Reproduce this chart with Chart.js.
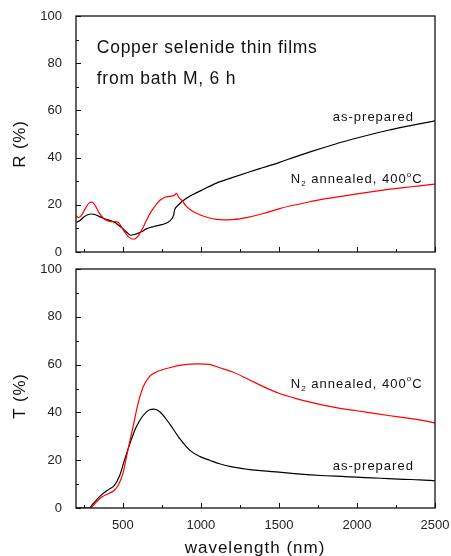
<!DOCTYPE html>
<html lang="en">
<head>
<meta charset="UTF-8" />
<title>Copper selenide thin films - R and T</title>
<script src="https://cdn.jsdelivr.net/npm/chart.js@4.4.1/dist/chart.umd.min.js"></script>
<style>
    html, body { margin: 0; padding: 0; background: #fff; }
    #wrap { position: relative; width: 451px; height: 556px; overflow: hidden; }
    canvas { position: absolute; left: 0; }
    #topChart { top: 0; }
    #bottomChart { top: 262px; }
</style>
</head>
<body>
<div id="wrap">
    <canvas id="topChart" width="451" height="262"></canvas>
    <canvas id="bottomChart" width="451" height="294"></canvas>
</div>

<script>
// ---- data ----
// reflectance, as-prepared film
const wlReflPrepared = [200, 225, 250, 275, 300, 325, 350, 375, 400, 425, 450, 475, 500, 525, 550, 575, 600, 625, 650, 675,
    700, 750, 790, 815, 825, 832, 850, 875, 907, 950, 1000, 1100, 1200, 1300, 1400, 1500, 1600, 1700, 1800, 1900,
    2000, 2100, 2200, 2300, 2400, 2500];
const reflPrepared = [12.5, 13.3, 14.8, 15.8, 16.1, 15.8, 15.0, 14.3, 13.7, 13.2, 12.5, 11.2, 9.9, 8.4, 7.1, 7.4, 8.0, 8.8, 9.8, 10.4,
    10.8, 11.6, 12.6, 14.2, 15.5, 17.9, 19.5, 21.2, 22.8, 24.4, 26.0, 29.2, 31.5, 33.7, 35.8, 37.9, 40.2, 42.4, 44.5, 46.5,
    48.3, 50.0, 51.6, 53.0, 54.3, 55.6];

// reflectance, N2 annealed 400 C
const wlReflAnnealed = [200, 215, 235, 260, 285, 300, 320, 345, 373, 400, 425, 450, 470, 490, 510, 540, 570, 595, 620, 650,
    680, 710, 740, 770, 800, 830, 843, 860, 880, 907, 950, 1000, 1050, 1100, 1150, 1200, 1250, 1300, 1400, 1500,
    1600, 1700, 1800, 1900, 2000, 2100, 2200, 2300, 2400, 2500];
const reflAnnealed = [15.5, 14.6, 15.5, 18.5, 20.8, 21.1, 20.0, 17.0, 14.4, 13.3, 12.9, 12.9, 12.6, 10.8, 8.6, 6.2, 5.4, 6.5, 9.2, 13.2,
    17.0, 19.8, 22.0, 23.2, 23.6, 24.0, 24.8, 23.0, 21.8, 19.3, 17.2, 15.6, 14.5, 13.8, 13.6, 13.7, 14.0, 14.7, 16.3, 18.3,
    19.9, 21.3, 22.6, 23.6, 24.6, 25.6, 26.5, 27.3, 28.0, 28.8];

// transmittance, as-prepared film
const wlTransPrepared = [200, 285, 300, 330, 370, 415, 445, 480, 510, 545, 585, 630, 670, 700, 735, 800, 865, 930, 995, 1060,
    1120, 1200, 1300, 1400, 1500, 1600, 1700, 1800, 1900, 2000, 2100, 2200, 2300, 2400, 2500];
const transPrepared = [0, 0, 1.0, 3.3, 5.9, 8.0, 9.4, 13.6, 19.9, 26.9, 33.8, 38.7, 41.1, 41.4, 40.4, 35.2, 29.0, 24.1, 21.5, 19.9,
    18.5, 17.2, 16.2, 15.5, 15.0, 14.4, 13.9, 13.5, 13.2, 12.9, 12.6, 12.3, 12.0, 11.8, 11.4];

// transmittance, N2 annealed 400 C
const wlTransAnnealed = [200, 290, 310, 330, 370, 410, 445, 470, 500, 530, 565, 597, 630, 670, 715, 800, 885, 980, 1060, 1120,
    1200, 1300, 1400, 1500, 1600, 1700, 1800, 1900, 2000, 2100, 2200, 2300, 2400, 2500];
const transAnnealed = [0, 0, 1.0, 2.5, 4.8, 6.1, 7.3, 9.5, 14.3, 23.5, 33.8, 43.6, 50.6, 55.0, 56.9, 58.7, 59.9, 60.3, 60.0, 58.7,
    57.0, 54.0, 50.8, 48.0, 46.0, 44.3, 42.8, 41.6, 40.7, 39.7, 38.7, 37.8, 36.9, 35.6];

// axis ticks
const xTicks = [500, 1000, 1500, 2000, 2500];
const xMinorTicks = [250, 750, 1250, 1750, 2250];
const yTicks = [0, 20, 40, 60, 80, 100];
const yMinorTicks = [10, 30, 50, 70, 90];

const FONT = "'Liberation Sans', Arial, sans-serif";

function pairs(xs, ys) {
    return xs.map((x, i) => ({ x: x, y: ys[i] }));
}

function line(data, color) {
    return {
        data: data,
        borderColor: color,
        borderWidth: 1.2,
        pointRadius: 0,
        fill: false,
        cubicInterpolationMode: 'monotone'
    };
}

// draw "N2 annealed, 400oC" style text with sub/superscripts
function drawParts(ctx, parts, x, y, size) {
    parts.forEach(p => {
        const small = p.sub || p.sup;
        const s = small ? size * 0.62 : size;
        ctx.font = s + 'px ' + FONT;
        const dy = p.sub ? size * 0.32 : (p.sup ? -size * 0.42 : 0);
        ctx.fillText(p.t, x, y + dy);
        x += ctx.measureText(p.t).width;
    });
}

// box frame, inward tick marks and all free text
const decor = {
    id: 'decor',
    afterDatasetsDraw(chart, args, opts) {
        const { ctx, chartArea: a, scales: { x, y } } = chart;
        ctx.save();
        ctx.strokeStyle = '#111';
        ctx.lineWidth = 1;
        ctx.beginPath();
        xTicks.concat(xMinorTicks).forEach(v => {
            const px = Math.round(x.getPixelForValue(v)) + 0.5;
            const len = xTicks.includes(v) ? 5 : 3;
            ctx.moveTo(px, a.bottom);
            ctx.lineTo(px, a.bottom - len);
        });
        yTicks.concat(yMinorTicks).forEach(v => {
            const py = Math.round(y.getPixelForValue(v)) + 0.5;
            const len = yTicks.includes(v) ? 5 : 3;
            ctx.moveTo(a.left, py);
            ctx.lineTo(a.left + len, py);
        });
        ctx.stroke();
        ctx.lineWidth = 1.3;
        ctx.strokeRect(a.left, a.top, a.right - a.left, a.bottom - a.top);

        ctx.fillStyle = '#111';
        ctx.textBaseline = 'middle';
        ctx.textAlign = 'left';
        (opts.notes || []).forEach(n => {
            ctx.letterSpacing = n.spacing + 'px';
            drawParts(ctx, n.parts, x.getPixelForValue(n.x), y.getPixelForValue(n.y), n.size);
        });

        // y axis title
        ctx.letterSpacing = '0.8px';
        ctx.font = '17px ' + FONT;
        ctx.textAlign = 'center';
        ctx.save();
        ctx.translate(opts.yTitle.x, opts.yTitle.y);
        ctx.rotate(-Math.PI / 2);
        ctx.fillText(opts.yTitle.text, 0, 0);
        ctx.restore();

        if (opts.xTitle) {
            ctx.letterSpacing = '1px';
            ctx.textBaseline = 'alphabetic';
            ctx.fillText(opts.xTitle.text, opts.xTitle.x, opts.xTitle.y);
        }
        ctx.restore();
    }
};

function noPad(s) {
    s.paddingLeft = 0;
    s.paddingRight = 0;
    s.paddingTop = 0;
    s.paddingBottom = 0;
}

function makeChart(id, datasets, yTitle, xTitle, notes, showXLabels, padTop, xHeight) {
    return new Chart(document.getElementById(id), {
        type: 'line',
        data: { datasets: datasets },
        options: {
            responsive: false,
            animation: false,
            devicePixelRatio: 1,
            layout: { padding: { top: padTop, right: 16, left: 0, bottom: 0 } },
            plugins: {
                legend: { display: false },
                tooltip: { enabled: false },
                decor: { yTitle: yTitle, xTitle: xTitle, notes: notes }
            },
            scales: {
                x: {
                    type: 'linear',
                    min: 200,
                    max: 2500,
                    grid: { display: false },
                    border: { display: false },
                    afterBuildTicks: s => { s.ticks = xTicks.map(v => ({ value: v })); },
                    afterFit: s => { s.height = xHeight; noPad(s); },
                    ticks: {
                        display: showXLabels,
                        padding: 2,
                        maxRotation: 0,
                        color: '#222',
                        font: { family: FONT, size: 13 },
                        callback: v => String(v)
                    }
                },
                y: {
                    min: 0,
                    max: 100,
                    grid: { display: false },
                    border: { display: false },
                    afterBuildTicks: s => { s.ticks = yTicks.map(v => ({ value: v })); },
                    afterFit: s => { s.width = 76; noPad(s); },
                    ticks: {
                        padding: 6,
                        color: '#222',
                        font: { family: FONT, size: 13 },
                        callback: v => String(v)
                    }
                }
            }
        },
        plugins: [decor]
    });
}

const n2Parts = [{ t: 'N' }, { t: '2', sub: true }, { t: ' annealed, 400' }, { t: 'o', sup: true }, { t: 'C' }];

makeChart('topChart',
    [line(pairs(wlReflAnnealed, reflAnnealed), '#ff0000'),
     line(pairs(wlReflPrepared, reflPrepared), '#000000')],
    { text: 'R (%)', x: 20, y: 144 },
    null,
    [
        { parts: [{ t: 'Copper selenide thin films' }], x: 333, y: 86.3, size: 17.5, spacing: 0.75 },
        { parts: [{ t: 'from bath M, 6 h' }], x: 333, y: 73.2, size: 17.5, spacing: 0.75 },
        { parts: [{ t: 'as-prepared' }], x: 1845, y: 57.2, size: 13, spacing: 1 },
        { parts: n2Parts, x: 1576, y: 30.6, size: 13, spacing: 1 }
    ],
    false, 16, 10);

makeChart('bottomChart',
    [line(pairs(wlTransAnnealed, transAnnealed), '#ff0000'),
     line(pairs(wlTransPrepared, transPrepared), '#000000')],
    { text: 'T (%)', x: 20, y: 134 },
    { text: 'wavelength (nm)', x: 255, y: 291 },
    [
        { parts: n2Parts, x: 1576, y: 51.8, size: 13, spacing: 1 },
        { parts: [{ t: 'as-prepared' }], x: 1845, y: 17.5, size: 13, spacing: 1 }
    ],
    true, 7, 48);
</script>
</body>
</html>
